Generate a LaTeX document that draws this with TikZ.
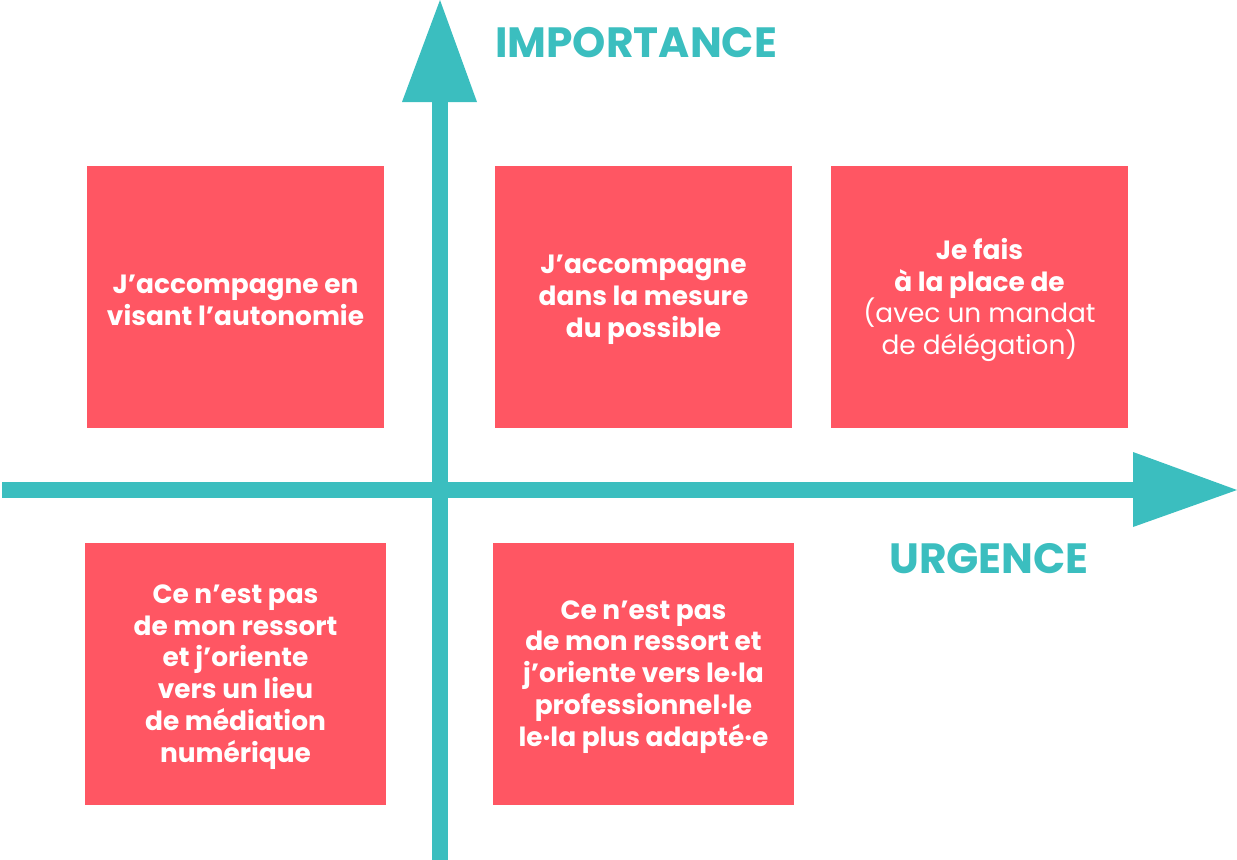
\documentclass[tikz,border=0pt]{standalone}
\usepackage{fontspec}
\setmainfont{Poppins}
\begin{document}
\begin{tikzpicture}[x=1bp,y=-1bp,
  card/.style={fill=redc,draw=none,minimum width=297bp,minimum height=262bp,inner sep=0pt},
  cardtext/.style={text=white,align=center,inner sep=0pt,yshift=-3bp,
    font=\fontsize{26.5}{32}\selectfont\bfseries},
  axislabel/.style={text=tealc,font=\fontsize{42.5}{50}\selectfont\bfseries,inner sep=0pt}]
\definecolor{tealc}{HTML}{3BBEBF}
\definecolor{redc}{HTML}{FF5663}
\useasboundingbox (0,0) rectangle (1237,860);
% axes
\fill[tealc] (432,102) rectangle (448,860);
\fill[tealc] (402,102) -- (477,102) -- (440,0) -- cycle;
\fill[tealc] (2,482) rectangle (1133,498);
\fill[tealc] (1133,452) -- (1133,527) -- (1237,490) -- cycle;
% labels
\node[axislabel,anchor=west] (imp) at (495,43) {IMPORTANCE};
\node[axislabel,anchor=west] (urg) at (889,559) {URGENCE};
% cards
\node[card] (c1) at (235.5,297) {};
\node[card] (c2) at (643.5,297) {};
\node[card] (c3) at (979.5,297) {};
\node[card,minimum width=301bp] (c4) at (235.5,674) {};
\node[card,minimum width=301bp] (c5) at (643.5,674) {};
\node[cardtext] (t1) at (c1.center) {J’accompagne en\\visant l’autonomie};
\node[cardtext] (t2) at (c2.center) {J’accompagne\\dans la mesure\\du possible};
\node[cardtext] (t3) at (c3.center) {Je fais\\à la place de\\{\mdseries(avec un mandat}\\{\mdseries de délégation)}};
\node[cardtext] (t4) at (c4.center) {Ce n’est pas\\de mon ressort\\et j’oriente\\vers un lieu\\de médiation\\numérique};
\node[cardtext] (t5) at (c5.center) {Ce n’est pas\\de mon ressort et\\j’oriente vers le·la\\professionnel·le\\le·la plus adapté·e};
\end{tikzpicture}
\end{document}
